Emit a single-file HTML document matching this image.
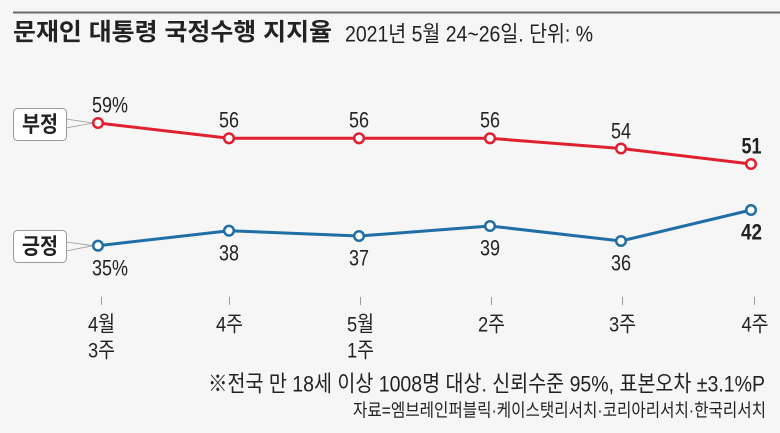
<!DOCTYPE html>
<html><head><meta charset="utf-8">
<style>
html,body{margin:0;padding:0;background:#f6f6f6;}
svg{display:block;}
.k{font-family:"Liberation Sans","Noto Sans CJK KR",sans-serif;fill:#222;}
</style></head>
<body>
<svg width="780" height="433" viewBox="0 0 780 433" xmlns="http://www.w3.org/2000/svg">
<rect x="0" y="0" width="780" height="433" fill="#f6f6f6"/>
<rect x="13" y="11.5" width="767" height="2" fill="#6b6b6b"/>
<text class="k" x="13" y="40" font-size="24" font-weight="bold" textLength="319" lengthAdjust="spacingAndGlyphs">문재인 대통령 국정수행 지지율</text>
<text class="k" x="345" y="41.5" font-size="22" textLength="248" lengthAdjust="spacingAndGlyphs">2021년 5월 24~26일. 단위: %</text>

<!-- callouts -->
<polyline points="66,119 93,123 66,128" fill="none" stroke="#999" stroke-width="0.8"/>
<rect x="13.5" y="108.5" width="53" height="32" rx="4" fill="#fff" stroke="#9a9a9a" stroke-width="1"/>
<text class="k" x="40" y="132" font-size="22" font-weight="bold" text-anchor="middle" textLength="36" lengthAdjust="spacingAndGlyphs">부정</text>

<polyline points="66,242 93,245.7 66,251" fill="none" stroke="#999" stroke-width="0.8"/>
<rect x="13.5" y="230.5" width="53" height="32" rx="4" fill="#fff" stroke="#9a9a9a" stroke-width="1"/>
<text class="k" x="40" y="254" font-size="22" font-weight="bold" text-anchor="middle" textLength="36" lengthAdjust="spacingAndGlyphs">긍정</text>

<!-- red series -->
<polyline points="98,123 229,138.3 359,138.3 490,138.3 621,148.5 751,164" fill="none" stroke="#e0202f" stroke-width="3"/>
<g fill="#fff" stroke="#e0202f" stroke-width="2.5">
<circle cx="98" cy="123" r="4.8"/><circle cx="229" cy="138.3" r="4.8"/><circle cx="359" cy="138.3" r="4.8"/>
<circle cx="490" cy="138.3" r="4.8"/><circle cx="621" cy="148.5" r="4.8"/><circle cx="751" cy="164" r="4.8"/>
</g>
<!-- blue series -->
<polyline points="98,245.7 229,230.7 359,236 490,226 621,241 751,210" fill="none" stroke="#1f6ea6" stroke-width="3"/>
<g fill="#fff" stroke="#1f6ea6" stroke-width="2.5">
<circle cx="98" cy="245.7" r="4.8"/><circle cx="229" cy="230.7" r="4.8"/><circle cx="359" cy="236" r="4.8"/>
<circle cx="490" cy="226" r="4.8"/><circle cx="621" cy="241" r="4.8"/><circle cx="751" cy="210" r="4.8"/>
</g>

<g font-size="22.5">
<text class="k" x="92" y="112.5" textLength="36" lengthAdjust="spacingAndGlyphs">59%</text>
<text class="k" x="229" y="127.5" text-anchor="middle" textLength="20" lengthAdjust="spacingAndGlyphs">56</text>
<text class="k" x="359" y="127.5" text-anchor="middle" textLength="20" lengthAdjust="spacingAndGlyphs">56</text>
<text class="k" x="490" y="127.5" text-anchor="middle" textLength="20" lengthAdjust="spacingAndGlyphs">56</text>
<text class="k" x="621" y="138.5" text-anchor="middle" textLength="20" lengthAdjust="spacingAndGlyphs">54</text>
<text class="k" x="751.5" y="153.5" text-anchor="middle" font-weight="bold" textLength="20" lengthAdjust="spacingAndGlyphs">51</text>
<text class="k" x="92" y="275.5" textLength="36" lengthAdjust="spacingAndGlyphs">35%</text>
<text class="k" x="229" y="260.5" text-anchor="middle" textLength="20" lengthAdjust="spacingAndGlyphs">38</text>
<text class="k" x="359" y="265.5" text-anchor="middle" textLength="20" lengthAdjust="spacingAndGlyphs">37</text>
<text class="k" x="490" y="255.5" text-anchor="middle" textLength="20" lengthAdjust="spacingAndGlyphs">39</text>
<text class="k" x="621" y="270.5" text-anchor="middle" textLength="20" lengthAdjust="spacingAndGlyphs">36</text>
<text class="k" x="751.5" y="239.5" text-anchor="middle" font-weight="bold" textLength="21" lengthAdjust="spacingAndGlyphs">42</text>
</g>

<!-- ticks -->
<g stroke="#999" stroke-width="1">
<line x1="101.5" y1="297" x2="101.5" y2="305"/>
<line x1="229.5" y1="297" x2="229.5" y2="305"/>
<line x1="360.5" y1="297" x2="360.5" y2="305"/>
<line x1="491.5" y1="297" x2="491.5" y2="305"/>
<line x1="622.5" y1="297" x2="622.5" y2="305"/>
<line x1="754.5" y1="297" x2="754.5" y2="305"/>
</g>
<g font-size="21.5">
<text class="k" x="101.5" y="331.5" text-anchor="middle" textLength="27" lengthAdjust="spacingAndGlyphs">4월</text>
<text class="k" x="101.5" y="357.5" text-anchor="middle" textLength="27" lengthAdjust="spacingAndGlyphs">3주</text>
<text class="k" x="229.5" y="331.5" text-anchor="middle" textLength="27" lengthAdjust="spacingAndGlyphs">4주</text>
<text class="k" x="360.5" y="331.5" text-anchor="middle" textLength="27" lengthAdjust="spacingAndGlyphs">5월</text>
<text class="k" x="360.5" y="357.5" text-anchor="middle" textLength="27" lengthAdjust="spacingAndGlyphs">1주</text>
<text class="k" x="491.5" y="331.5" text-anchor="middle" textLength="27" lengthAdjust="spacingAndGlyphs">2주</text>
<text class="k" x="622.5" y="331.5" text-anchor="middle" textLength="27" lengthAdjust="spacingAndGlyphs">3주</text>
<text class="k" x="755" y="331.5" text-anchor="middle" textLength="27" lengthAdjust="spacingAndGlyphs">4주</text>
</g>

<text class="k" x="208" y="391.5" font-size="22.5" textLength="557" lengthAdjust="spacingAndGlyphs">※전국 만 18세 이상 1008명 대상. 신뢰수준 95%, 표본오차 ±3.1%P</text>
<text class="k" x="353" y="416.5" font-size="18" textLength="413" lengthAdjust="spacingAndGlyphs">자료=엠브레인퍼블릭·케이스탯리서치·코리아리서치·한국리서치</text>
</svg>
</body></html>
